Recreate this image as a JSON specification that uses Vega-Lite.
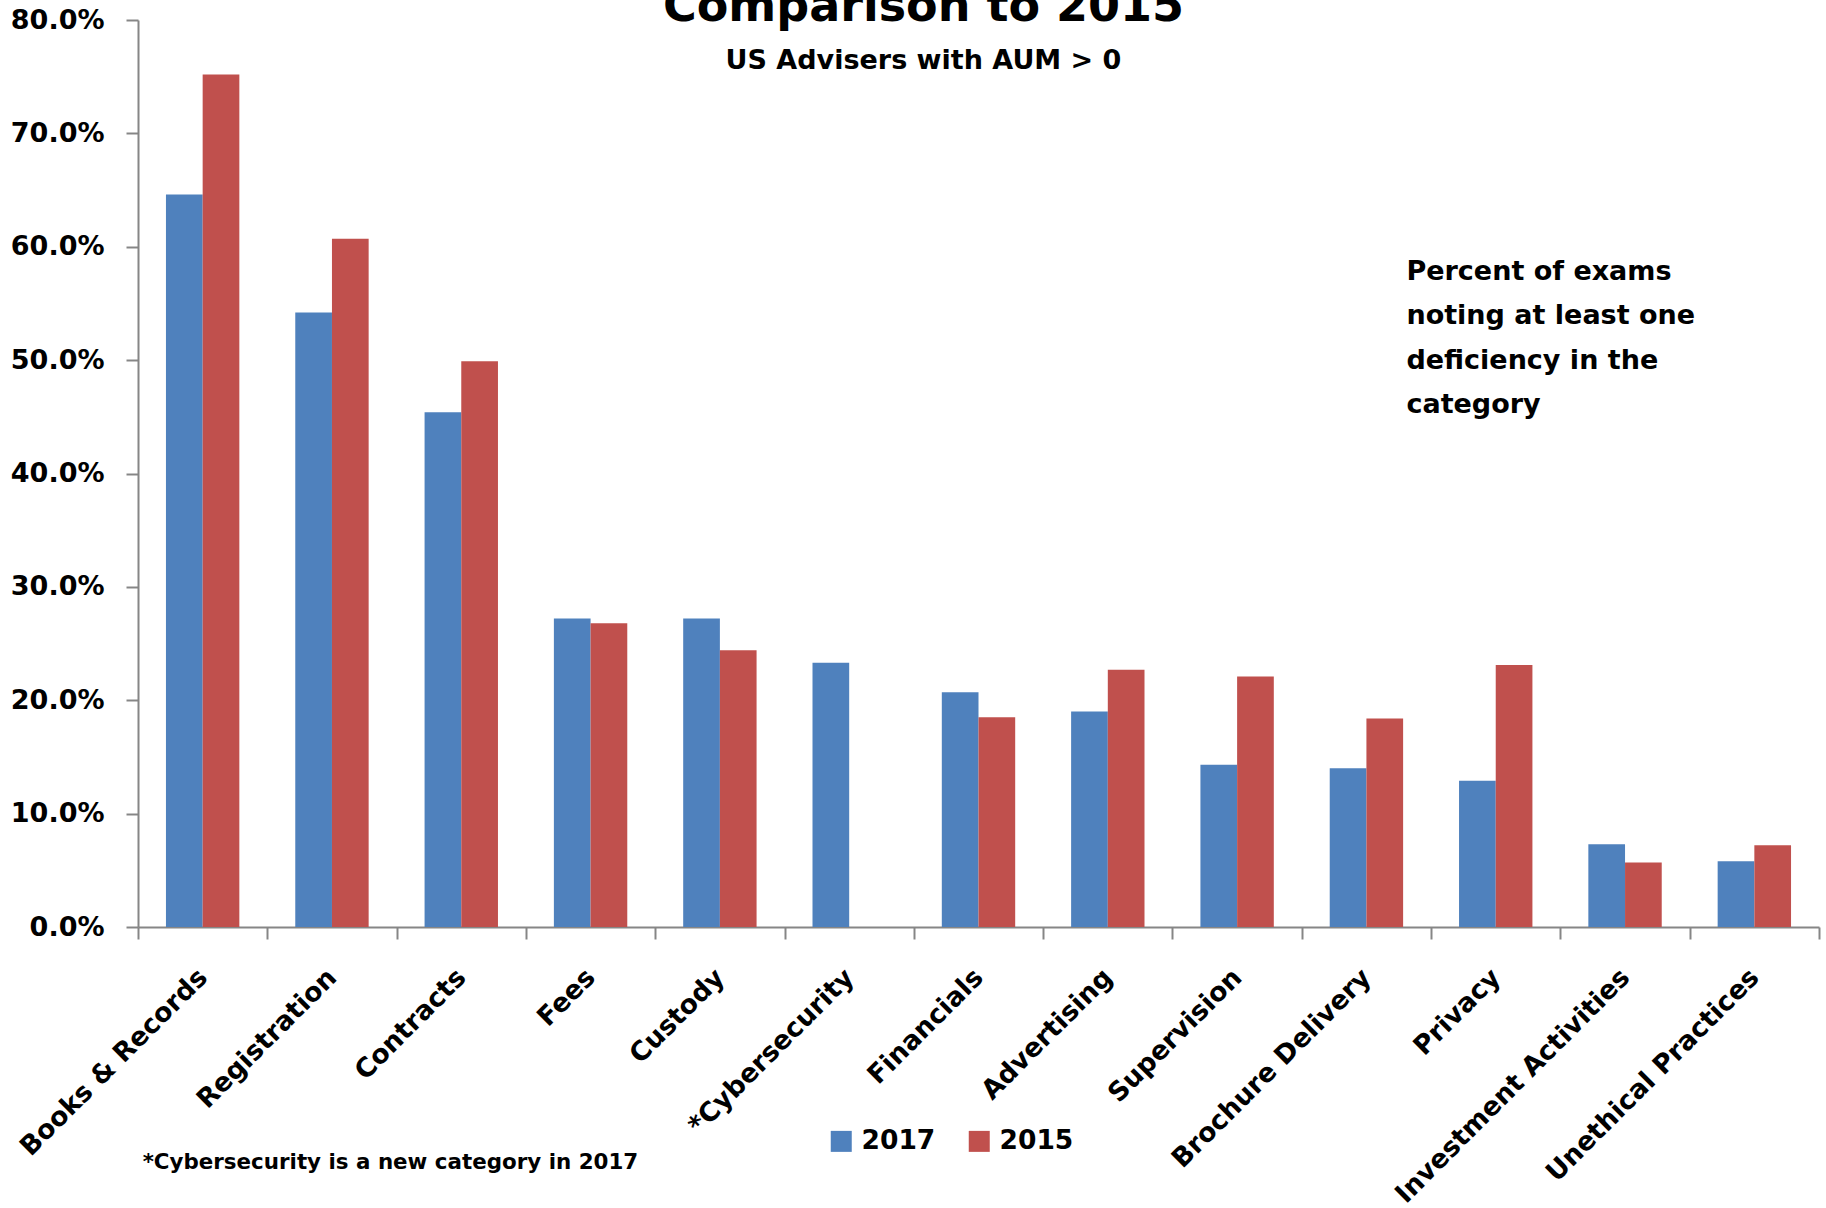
{
  "$schema": "https://vega.github.io/schema/vega-lite/v6.json",
  "autosize": "none",
  "width": 1681,
  "height": 907,
  "padding": {"left": 138, "top": 20, "right": 7, "bottom": 281},
  "background": "white",
  "config": {"font": "DejaVu Sans", "view": {"stroke": null}},
  "title": {
    "text": "Comparison to 2015",
    "subtitle": "US Advisers with AUM > 0",
    "anchor": "middle",
    "frame": "group",
    "dx": -55,
    "offset": -69,
    "font": "DejaVu Sans",
    "fontSize": 46,
    "fontWeight": "bold",
    "color": "black",
    "subtitleFont": "DejaVu Sans",
    "subtitleFontSize": 27,
    "subtitleFontWeight": "bold",
    "subtitleColor": "black",
    "subtitlePadding": 17
  },
  "layer": [
    {
      "data": {"values": [
        {"category": "Books & Records", "year": "2017", "value": 0.646},
        {"category": "Books & Records", "year": "2015", "value": 0.752},
        {"category": "Registration", "year": "2017", "value": 0.542},
        {"category": "Registration", "year": "2015", "value": 0.607},
        {"category": "Contracts", "year": "2017", "value": 0.454},
        {"category": "Contracts", "year": "2015", "value": 0.499},
        {"category": "Fees", "year": "2017", "value": 0.272},
        {"category": "Fees", "year": "2015", "value": 0.268},
        {"category": "Custody", "year": "2017", "value": 0.272},
        {"category": "Custody", "year": "2015", "value": 0.244},
        {"category": "*Cybersecurity", "year": "2017", "value": 0.233},
        {"category": "Financials", "year": "2017", "value": 0.207},
        {"category": "Financials", "year": "2015", "value": 0.185},
        {"category": "Advertising", "year": "2017", "value": 0.190},
        {"category": "Advertising", "year": "2015", "value": 0.227},
        {"category": "Supervision", "year": "2017", "value": 0.143},
        {"category": "Supervision", "year": "2015", "value": 0.221},
        {"category": "Brochure Delivery", "year": "2017", "value": 0.140},
        {"category": "Brochure Delivery", "year": "2015", "value": 0.184},
        {"category": "Privacy", "year": "2017", "value": 0.129},
        {"category": "Privacy", "year": "2015", "value": 0.231},
        {"category": "Investment Activities", "year": "2017", "value": 0.073},
        {"category": "Investment Activities", "year": "2015", "value": 0.057},
        {"category": "Unethical Practices", "year": "2017", "value": 0.058},
        {"category": "Unethical Practices", "year": "2015", "value": 0.072}
      ]},
      "mark": {"type": "bar"},
      "encoding": {
        "x": {
          "field": "category", "type": "nominal", "title": null,
          "sort": ["Books & Records", "Registration", "Contracts", "Fees", "Custody", "*Cybersecurity", "Financials", "Advertising", "Supervision", "Brochure Delivery", "Privacy", "Investment Activities", "Unethical Practices"],
          "scale": {"paddingInner": 0, "paddingOuter": 0},
          "axis": {
            "tickBand": "extent", "tickSize": 12, "tickColor": "#868686", "tickWidth": 2,
            "domainColor": "#868686", "domainWidth": 2,
            "labelAngle": -45, "labelAlign": "right", "labelBaseline": "middle",
            "labelFont": "DejaVu Sans", "labelFontSize": 26.5, "labelFontWeight": "bold", "labelColor": "black",
            "labelPadding": 34, "labelLimit": 0, "labelOverlap": false, "labelBound": false
          }
        },
        "xOffset": {"field": "year", "type": "nominal", "sort": ["2017", "2015"], "scale": {"domain": ["2017", "2015"], "paddingInner": 0, "paddingOuter": 0.762}},
        "y": {
          "field": "value", "type": "quantitative", "title": null,
          "scale": {"domain": [0, 0.8], "nice": false},
          "axis": {
            "values": [0, 0.1, 0.2, 0.3, 0.4, 0.5, 0.6, 0.7, 0.8], "format": ".1%", "grid": false,
            "tickSize": 12, "tickColor": "#868686", "tickWidth": 2,
            "domainColor": "#868686", "domainWidth": 2,
            "labelFont": "DejaVu Sans", "labelFontSize": 27, "labelFontWeight": "bold", "labelColor": "black",
            "labelPadding": 22
          }
        },
        "color": {
          "field": "year", "type": "nominal", "sort": ["2017", "2015"],
          "scale": {"domain": ["2017", "2015"], "range": ["#4F81BD", "#C0504D"]},
          "legend": {
            "orient": "none", "legendX": 690, "legendY": 1108, "direction": "horizontal",
            "title": null, "symbolType": "square", "symbolSize": 441, "symbolStrokeWidth": 0,
            "labelFont": "DejaVu Sans", "labelFontSize": 26.5, "labelFontWeight": "bold", "labelColor": "black",
            "columnPadding": 30, "labelOffset": 7, "padding": 0
          }
        }
      }
    },
    {
      "data": {"values": [
        {"category": "Brochure Delivery", "value": 0.569, "label": "Percent of exams\nnoting at least one\ndeficiency in the\ncategory"}
      ]},
      "mark": {"type": "text", "align": "left", "baseline": "alphabetic", "dx": 40, "dy": -2, "lineBreak": "\n", "lineHeight": 44.5, "font": "DejaVu Sans", "fontSize": 27, "fontWeight": "bold", "color": "black"},
      "encoding": {
        "x": {"field": "category", "type": "nominal", "title": null, "sort": ["Books & Records", "Registration", "Contracts", "Fees", "Custody", "*Cybersecurity", "Financials", "Advertising", "Supervision", "Brochure Delivery", "Privacy", "Investment Activities", "Unethical Practices"]},
        "y": {"field": "value", "type": "quantitative", "title": null},
        "text": {"field": "label"}
      }
    },
    {
      "data": {"values": [
        {"category": "Books & Records", "value": -0.212, "label": "*Cybersecurity is a new category in 2017"}
      ]},
      "mark": {"type": "text", "align": "left", "baseline": "alphabetic", "dx": -60, "dy": 2, "font": "DejaVu Sans", "fontSize": 21.4, "fontWeight": "bold", "color": "black"},
      "encoding": {
        "x": {"field": "category", "type": "nominal", "title": null, "sort": ["Books & Records", "Registration", "Contracts", "Fees", "Custody", "*Cybersecurity", "Financials", "Advertising", "Supervision", "Brochure Delivery", "Privacy", "Investment Activities", "Unethical Practices"]},
        "y": {"field": "value", "type": "quantitative", "title": null},
        "text": {"field": "label"}
      }
    }
  ]
}
